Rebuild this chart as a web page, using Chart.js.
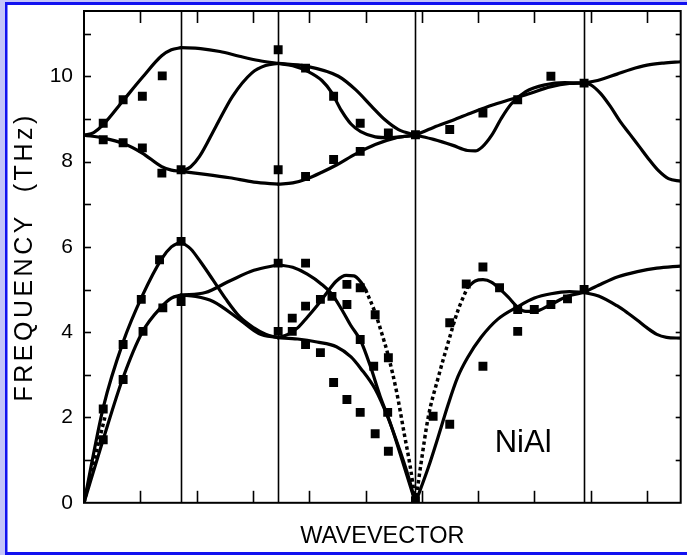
<!DOCTYPE html>
<html>
<head>
<meta charset="utf-8">
<script src="https://cdn.jsdelivr.net/npm/chart.js@4.4.1/dist/chart.umd.min.js"></script>
<style>
  html, body { margin: 0; padding: 0; background: #fff; }
  #wrap { width: 687px; height: 555px; }
</style>
</head>
<body>
<div id="wrap"><canvas id="c" width="687" height="555"></canvas></div>
<script>
// ---- path: Γ–X–M–Γ–R–M  (Γ–X length = 1) ----
const symLabels = ['Γ', 'X', 'M', 'Γ', 'R', 'M'];
const symPoints = [0, 1, 2, 3.414, 5.146, 6.146];
const xTickStep = 0.58;          // unlabelled wavevector ticks
const yTickStep = 2;             // labelled frequency ticks (THz)
const yMinorStep = 1;
const yMax = 11.53;

// ---- calculated branches [wavevector, frequency THz] ----
// Γ–X
const gxOptUp  = [[0,8.62],[0.1,8.68],[0.2,8.87],[0.4,9.42],[0.6,9.97],[0.8,10.48],[0.9,10.62],[1,10.67]];
const gxOptLow = [[0,8.62],[0.2,8.55],[0.4,8.43],[0.6,8.2],[0.8,7.88],[0.9,7.8],[1,7.77]];
const gxAcUp   = [[0,0],[0.2,2.25],[0.4,3.75],[0.6,4.85],[0.8,5.72],[0.9,6.0],[1,6.12]];
const gxAcLow  = [[0,0],[0.2,1.5],[0.4,2.92],[0.6,4.0],[0.8,4.6],[0.9,4.8],[1,4.87]];
const gxAcDot  = [[0,0],[0.1,0.95],[0.22,2.05]];
// X–M
const xmOptUp  = [[1,10.67],[1.2,10.65],[1.4,10.58],[1.6,10.47],[1.8,10.37],[2,10.3]];
const xmOptMid = [[1,7.77],[1.1,7.88],[1.19,8.12],[1.36,8.83],[1.53,9.53],[1.73,10.08],[1.87,10.25],[2,10.3]];
const xmOptLow = [[1,7.77],[1.25,7.7],[1.5,7.62],[1.75,7.52],[2,7.47]];
const xmAc1    = [[1,6.12],[1.1,5.95],[1.2,5.65],[1.33,5.22],[1.46,4.78],[1.6,4.37],[1.75,4.1],[1.87,3.95],[2,3.87]];
const xmAc2    = [[1,4.87],[1.25,4.93],[1.5,5.2],[1.75,5.45],[2,5.58]];
const xmAc3    = [[1,4.87],[1.15,4.84],[1.33,4.72],[1.6,4.3],[1.8,3.97],[2,3.87]];
// M–Γ
const mgOptA   = [[2,10.3],[2.28,10.24],[2.62,10.0],[2.8,9.68],[2.96,9.3],[3.1,8.98],[3.24,8.75],[3.414,8.62]];
const mgOptB   = [[2,10.3],[2.15,10.25],[2.3,10.12],[2.45,9.9],[2.55,9.62],[2.65,9.2],[2.75,8.88],[2.85,8.7],[3.0,8.58],[3.15,8.56],[3.3,8.59],[3.414,8.62]];
const mgOptC   = [[2,7.47],[2.15,7.5],[2.3,7.6],[2.45,7.75],[2.6,7.92],[2.8,8.18],[3.0,8.4],[3.2,8.55],[3.414,8.62]];
const mgAcA    = [[2,3.87],[2.2,3.84],[2.4,3.77],[2.6,3.66],[2.75,3.42],[2.85,3.15],[3.0,2.66],[3.13,2.0],[3.25,1.25],[3.35,0.55],[3.414,0]];
const mgAcB    = [[2,5.58],[2.15,5.52],[2.3,5.36],[2.45,5.12],[2.55,4.9],[2.65,4.55],[2.75,4.15],[2.85,3.8],[2.95,3.2],[3.05,2.5],[3.15,1.9],[3.27,1.05],[3.414,0]];
const mgAcC    = [[2,3.87],[2.1,3.95],[2.2,4.1],[2.3,4.35],[2.4,4.62],[2.5,4.92],[2.6,5.2],[2.7,5.33],[2.78,5.32],[2.85,5.18],[2.9,5.0]];
const mgAcCDot = [[2.9,5.0],[3.0,4.45],[3.07,3.95],[3.135,3.44],[3.22,2.6],[3.3,1.6],[3.36,0.85],[3.414,0]];
// Γ–R
const grOpt1   = [[3.414,8.62],[3.6,8.8],[3.8,8.97],[4.0,9.15],[4.2,9.32],[4.4,9.46],[4.6,9.6],[4.8,9.75],[5.0,9.83],[5.146,9.84]];
const grOpt2   = [[3.414,8.62],[3.6,8.52],[3.8,8.38],[3.95,8.26],[4.03,8.25],[4.1,8.34],[4.2,8.62],[4.3,9.02],[4.4,9.35],[4.55,9.64],[4.75,9.8],[4.95,9.85],[5.146,9.84]];
const grAcDot  = [[3.414,0],[3.47,0.9],[3.545,2.0],[3.65,2.95],[3.75,3.75],[3.85,4.5],[3.95,5.05]];
const grAcUp   = [[3.95,5.05],[4.03,5.2],[4.11,5.23],[4.2,5.17],[4.28,5.02],[4.37,4.82],[4.47,4.58],[4.55,4.49],[4.64,4.49],[4.8,4.64],[4.98,4.84],[5.146,4.93]];
const grAcLow  = [[3.414,0],[3.55,0.85],[3.65,1.56],[3.75,2.3],[3.85,2.95],[3.95,3.4],[4.09,3.88],[4.26,4.3],[4.47,4.6],[4.64,4.8],[4.81,4.9],[5.0,4.95],[5.146,4.93]];
// R–M
const rmOptUp  = [[5.146,9.84],[5.29,9.9],[5.49,10.05],[5.63,10.16],[5.8,10.26],[5.97,10.31],[6.146,10.34]];
const rmOptLow = [[5.146,9.84],[5.22,9.8],[5.32,9.6],[5.42,9.3],[5.52,8.95],[5.62,8.65],[5.72,8.35],[5.82,8.05],[5.92,7.78],[6.02,7.6],[6.146,7.54]];
const rmAcUp   = [[5.146,4.93],[5.3,5.1],[5.5,5.3],[5.7,5.42],[5.9,5.5],[6.146,5.55]];
const rmAcLow  = [[5.146,4.93],[5.3,4.85],[5.49,4.62],[5.6,4.45],[5.7,4.28],[5.8,4.1],[5.9,3.95],[6.0,3.88],[6.146,3.86]];

// ---- measured (neutron scattering) points ----
const measGX = [[0.198,8.9],[0.403,9.45],[0.601,9.53],[0.806,10.01],[0.198,8.51],[0.403,8.44],[0.601,8.32],[0.802,7.73],[1.0,7.81],
                [0.198,2.2],[0.403,3.71],[0.59,4.77],[0.778,5.7],[1.0,6.13],[0.198,1.48],[0.403,2.89],[0.608,4.02],[0.812,4.57],[1.0,4.72]];
const measM  = [[2.0,10.62],[2.0,7.81],[2.0,5.62],[2.0,4.02]];
const measMG = [[2.282,7.65],[2.571,8.05],[2.571,9.53],[2.282,10.19],[2.845,8.9],[2.845,8.24],[3.135,8.67],[3.414,8.63],
                [2.145,4.02],[2.145,4.33],[2.282,5.62],[2.282,4.61],[2.282,3.71],[2.435,3.52],[2.435,4.77],[2.554,4.84],
                [2.708,5.12],[2.708,4.65],[2.845,5.04],[2.845,3.83],[2.999,4.41],[3.135,3.4],[2.984,3.2],[2.571,2.82],
                [2.708,2.42],[2.845,2.12],[3.128,2.12],[2.999,1.62],[3.135,1.21],[3.414,0.05]];
const measGR = [[3.767,8.75],[4.109,9.14],[4.467,9.45],[4.809,10.0],[5.151,9.84],
                [3.596,2.03],[3.767,1.84],[3.767,4.22],[3.937,5.13],[4.109,5.53],[4.109,3.2],[4.28,5.04],[4.467,4.53],
                [4.467,4.02],[4.638,4.53],[4.809,4.65],[4.98,4.78],[5.151,5.0]];

const compoundLabel = 'NiAl';
const labelAt = [4.23, 1.2];

const solidBranches = [gxOptUp, gxOptLow, gxAcUp, gxAcLow, xmOptUp, xmOptMid, xmOptLow, xmAc1, xmAc2, xmAc3,
  mgOptA, mgOptB, mgOptC, mgAcA, mgAcB, mgAcC, grOpt1, grOpt2, grAcUp, grAcLow, rmOptUp, rmOptLow, rmAcUp, rmAcLow];
const dottedBranches = [gxAcDot, mgAcCDot, grAcDot];
const measured = [].concat(measGX, measM, measMG, measGR);

const FONT = "'Liberation Sans', Arial, Helvetica, sans-serif";

class SpacedLinearScale extends Chart.LinearScale {
  drawTitle() {
    const ctx = this.ctx;
    ctx.save();
    if (this.axis === 'y' && 'letterSpacing' in ctx) ctx.letterSpacing = '3.5px';
    super.drawTitle();
    ctx.restore();
  }
}
SpacedLinearScale.id = 'spacedLinear';
SpacedLinearScale.defaults = Chart.LinearScale.defaults;
Chart.register(SpacedLinearScale);

function toXY(a) { return a.map(p => ({ x: p[0], y: p[1] })); }

const datasets = [];
datasets.push({
  type: 'scatter', label: 'experiment', data: toXY(measured), order: 0,
  pointStyle: 'rect', pointRadius: 6.3, backgroundColor: '#000', borderWidth: 0, showLine: false
});
solidBranches.forEach((b, i) => datasets.push({
  type: 'line', label: 'calc' + i, data: toXY(b), order: 1,
  borderColor: '#000', borderWidth: 3.2, pointRadius: 0, fill: false,
  cubicInterpolationMode: 'monotone', borderCapStyle: 'round', borderJoinStyle: 'round'
}));
dottedBranches.forEach((b, i) => datasets.push({
  type: 'line', label: 'calcL' + i, data: toXY(b), order: 1,
  borderColor: '#000', borderWidth: 3.5, borderDash: [3.5, 3], pointRadius: 0, fill: false,
  cubicInterpolationMode: 'monotone', borderCapStyle: 'butt'
}));

const decor = {
  id: 'decor',
  beforeDraw(chart) {
    const c = chart.ctx, W = chart.width, H = chart.height;
    c.save();
    c.fillStyle = '#ffffff'; c.fillRect(0, 0, W, H);
    c.fillStyle = '#c4c4fa'; c.fillRect(0, 0, 5, H); c.fillRect(0, 0, W, 2);
    c.fillStyle = '#1212f0';
    c.fillRect(5, 2, 2.5, H - 2); c.fillRect(5, 2, W - 5, 3); c.fillRect(5, H - 3, W - 5, 3);
    c.restore();
  },
  beforeDatasetsDraw(chart) {
    const c = chart.ctx, a = chart.chartArea, xs = chart.scales.x;
    c.save();
    c.strokeStyle = '#000'; c.lineWidth = 1.6;
    symPoints.slice(1, -1).forEach(q => {
      const px = Math.round(xs.getPixelForValue(q)) + 0.5;
      c.beginPath(); c.moveTo(px, a.top); c.lineTo(px, a.bottom); c.stroke();
    });
    c.restore();
  },
  afterDraw(chart) {
    const c = chart.ctx, a = chart.chartArea, xs = chart.scales.x, ys = chart.scales.y;
    c.save();
    c.strokeStyle = '#000'; c.lineWidth = 2;
    c.strokeRect(a.left, a.top, a.right - a.left, a.bottom - a.top);
    c.lineWidth = 1.6;
    for (let k = 1; k * xTickStep < xs.max; k++) {
      const px = Math.round(xs.getPixelForValue(k * xTickStep)) + 0.5;
      c.beginPath(); c.moveTo(px, a.bottom); c.lineTo(px, a.bottom - 12); c.stroke();
      c.beginPath(); c.moveTo(px, a.top); c.lineTo(px, a.top + 12); c.stroke();
    }
    for (let v = yMinorStep; v < ys.max; v += yMinorStep) {
      const py = Math.round(ys.getPixelForValue(v)) + 0.5;
      c.beginPath(); c.moveTo(a.left, py); c.lineTo(a.left + 7, py); c.stroke();
      c.beginPath(); c.moveTo(a.right, py); c.lineTo(a.right - 5, py); c.stroke();
    }
    c.fillStyle = '#000';
    c.font = '31px ' + FONT;
    c.textAlign = 'left'; c.textBaseline = 'alphabetic';
    c.fillText(compoundLabel, xs.getPixelForValue(labelAt[0]), ys.getPixelForValue(labelAt[1]));
    c.restore();
  }
};

new Chart(document.getElementById('c'), {
  type: 'line',
  data: { datasets },
  options: {
    responsive: false, animation: false, devicePixelRatio: 1,
    layout: { padding: { left: 6, right: 3, top: 11, bottom: 0 } },
    plugins: { legend: { display: false }, tooltip: { enabled: false } },
    scales: {
      x: {
        type: 'linear', min: symPoints[0], max: symPoints[symPoints.length - 1],
        grid: { display: false, drawTicks: false }, border: { display: false },
        ticks: { display: false },
        title: { display: true, text: 'WAVEVECTOR', color: '#000', font: { family: FONT, size: 23.5 }, padding: { top: 20, bottom: 4 } },
        afterFit(scale) { scale.paddingLeft = 0; scale.paddingRight = 0; }
      },
      y: {
        type: 'spacedLinear', min: 0, max: yMax,
        grid: { display: false, drawTicks: false }, border: { display: false },
        ticks: { stepSize: yTickStep, includeBounds: false, color: '#000', font: { family: FONT, size: 21 }, padding: 11 },
        title: { display: true, text: 'FREQUENCY  (THz)', color: '#000', font: { family: FONT, size: 25 }, padding: { top: 4, bottom: 0 } },
        afterFit(scale) { scale.width = 78; scale.paddingTop = 0; scale.paddingBottom = 0; }
      }
    }
  },
  plugins: [decor]
});
</script>
</body>
</html>
